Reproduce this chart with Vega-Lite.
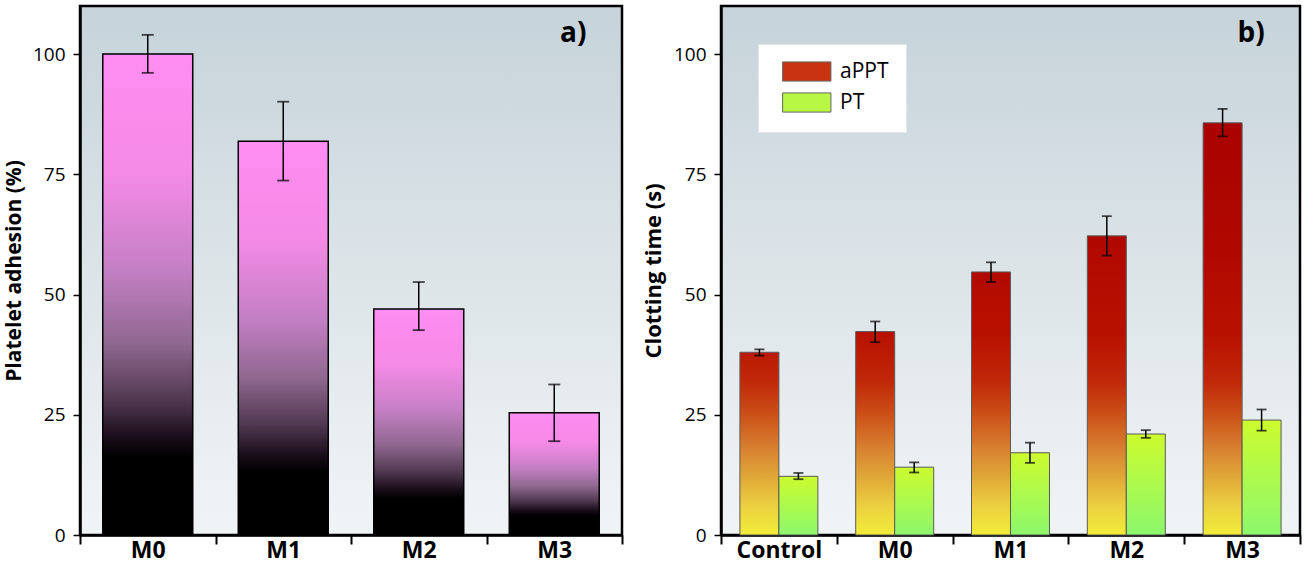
{
  "$schema": "https://vega.github.io/schema/vega-lite/v6.json",
  "padding": {"left": 2, "top": 4, "right": 2, "bottom": 0},
  "spacing": 16,
  "datasets": {
    "adhesion": [
      {"sample": "M0", "adhesion": 100.0, "lo": 96.1, "hi": 104.0},
      {"sample": "M1", "adhesion": 81.9, "lo": 73.7, "hi": 90.1},
      {"sample": "M2", "adhesion": 47.0, "lo": 42.6, "hi": 52.6},
      {"sample": "M3", "adhesion": 25.4, "lo": 19.5, "hi": 31.3}
    ],
    "clotting": [
      {"sample": "Control", "test": "aPPT", "time": 38.0, "lo": 37.3, "hi": 38.6},
      {"sample": "Control", "test": "PT", "time": 12.2, "lo": 11.6, "hi": 12.9},
      {"sample": "M0", "test": "aPPT", "time": 42.3, "lo": 40.1, "hi": 44.4},
      {"sample": "M0", "test": "PT", "time": 14.1, "lo": 13.0, "hi": 15.1},
      {"sample": "M1", "test": "aPPT", "time": 54.7, "lo": 52.6, "hi": 56.7},
      {"sample": "M1", "test": "PT", "time": 17.1, "lo": 15.0, "hi": 19.2},
      {"sample": "M2", "test": "aPPT", "time": 62.2, "lo": 58.1, "hi": 66.3},
      {"sample": "M2", "test": "PT", "time": 21.0, "lo": 20.2, "hi": 21.8},
      {"sample": "M3", "test": "aPPT", "time": 85.7, "lo": 82.9, "hi": 88.6},
      {"sample": "M3", "test": "PT", "time": 23.9, "lo": 21.7, "hi": 26.1}
    ]
  },
  "config": {
    "font": "Open Sans",
    "view": {
      "stroke": "black",
      "strokeWidth": 2.5,
      "fill": {"gradient": "linear", "x1": 0, "y1": 0, "x2": 0, "y2": 1,
        "stops": [{"offset": 0, "color": "#c6d3da"}, {"offset": 0.5, "color": "#dce4e8"}, {"offset": 1, "color": "#f1f4f5"}]}
    },
    "axis": {
      "labelColor": "black", "titleColor": "black", "tickColor": "black", "domainColor": "black",
      "labelFont": "Open Sans", "titleFont": "Open Sans", "grid": false
    },
    "axisX": {"labelAngle": 0, "labelFontSize": 23, "labelFontWeight": "bold", "tickBand": "extent", "tickSize": 9, "tickWidth": 2, "domainWidth": 2.5, "labelPadding": -5, "title": null},
    "axisY": {"labelFontSize": 19, "tickSize": 7, "tickWidth": 1.5, "domainWidth": 2.5, "labelPadding": 8, "titleFontSize": 21, "titleFontWeight": "bold", "titlePadding": 8}
  },
  "hconcat": [
    {
      "width": 542,
      "height": 529,
      "data": {"name": "adhesion"},
      "encoding": {
        "x": {"field": "sample", "type": "nominal", "scale": {"paddingInner": 0, "paddingOuter": 0}, "axis": {}}
      },
      "layer": [
        {
          "mark": {"type": "bar", "stroke": "black", "strokeWidth": 1.5, "width": {"band": 0.664},
            "fill": {"gradient": "linear", "x1": 0, "y1": 0, "x2": 0, "y2": 1,
              "stops": [
                {"offset": 0, "color": "#ff8df2"},
                {"offset": 0.25, "color": "#f48ae6"},
                {"offset": 0.45, "color": "#c47fc4"},
                {"offset": 0.6, "color": "#906890"},
                {"offset": 0.72, "color": "#503850"},
                {"offset": 0.8, "color": "#180c18"},
                {"offset": 0.84, "color": "#000000"},
                {"offset": 1, "color": "#000000"}
              ]}},
          "encoding": {
            "y": {"field": "adhesion", "type": "quantitative", "scale": {"domain": [0, 110], "nice": false}, "axis": {"title": "Platelet adhesion (%)", "values": [0, 25, 50, 75, 100]}}
          }
        },
        {
          "mark": {"type": "rule", "color": "black", "strokeWidth": 1.5},
          "encoding": {"y": {"field": "lo", "type": "quantitative"}, "y2": {"field": "hi"}}
        },
        {
          "mark": {"type": "tick", "color": "black", "size": 12, "thickness": 1.8},
          "encoding": {"y": {"field": "lo", "type": "quantitative"}}
        },
        {
          "mark": {"type": "tick", "color": "black", "size": 12, "thickness": 1.8},
          "encoding": {"y": {"field": "hi", "type": "quantitative"}}
        },
        {
          "data": {"values": [{"label": "a)"}]},
          "mark": {"type": "text", "fontSize": 28, "fontWeight": "bold", "align": "center", "baseline": "alphabetic", "dx": 19, "color": "black"},
          "encoding": {"x": {"datum": "M3"}, "y": {"datum": 102.5}, "text": {"field": "label"}}
        }
      ]
    },
    {
      "width": 579,
      "height": 529,
      "data": {"name": "clotting"},
      "encoding": {
        "x": {"field": "sample", "type": "nominal", "sort": ["Control", "M0", "M1", "M2", "M3"], "scale": {"paddingInner": 0, "paddingOuter": 0}, "axis": {}}
      },
      "layer": [
        {
          "mark": {"type": "bar", "stroke": "#5a5a5a", "strokeWidth": 1},
          "encoding": {
            "xOffset": {"field": "test", "type": "nominal", "sort": ["aPPT", "PT"], "scale": {"paddingInner": 0, "paddingOuter": 0.485}},
            "y": {"field": "time", "type": "quantitative", "scale": {"domain": [0, 110], "nice": false}, "axis": {"title": "Clotting time (s)", "titleFontSize": 22, "values": [0, 25, 50, 75, 100]}},
            "fill": {
              "condition": [
                {"test": "datum.test === 'PT'", "value": {"gradient": "linear", "x1": 0, "y1": 0, "x2": 0, "y2": 1, "stops": [{"offset": 0, "color": "#cdfb2e"}, {"offset": 1, "color": "#8cf86c"}]}},
                {"test": "datum.test === 'aPPT' && datum.sample === 'Control'", "value": {"gradient": "linear", "x1": 0, "y1": 0, "x2": 0, "y2": 1, "stops": [
                  {"offset": 0, "color": "#bb1a04"}, {"offset": 0.158, "color": "#c02808"}, {"offset": 0.342, "color": "#cc5018"}, {"offset": 0.526, "color": "#d88030"}, {"offset": 0.684, "color": "#e0a838"}, {"offset": 0.842, "color": "#ecd040"}, {"offset": 1, "color": "#f2ec3a"}]}},
                {"test": "datum.test === 'aPPT' && datum.sample === 'M0'", "value": {"gradient": "linear", "x1": 0, "y1": 0, "x2": 0, "y2": 1, "stops": [
                  {"offset": 0, "color": "#b81000"}, {"offset": 0.243, "color": "#c02808"}, {"offset": 0.409, "color": "#cc5018"}, {"offset": 0.574, "color": "#d88030"}, {"offset": 0.716, "color": "#e0a838"}, {"offset": 0.858, "color": "#ecd040"}, {"offset": 1, "color": "#f2ec3a"}]}},
                {"test": "datum.test === 'aPPT' && datum.sample === 'M1'", "value": {"gradient": "linear", "x1": 0, "y1": 0, "x2": 0, "y2": 1, "stops": [
                  {"offset": 0, "color": "#b30a00"}, {"offset": 0.232, "color": "#b81000"}, {"offset": 0.415, "color": "#c02808"}, {"offset": 0.543, "color": "#cc5018"}, {"offset": 0.671, "color": "#d88030"}, {"offset": 0.781, "color": "#e0a838"}, {"offset": 0.89, "color": "#ecd040"}, {"offset": 1, "color": "#f2ec3a"}]}},
                {"test": "datum.test === 'aPPT' && datum.sample === 'M2'", "value": {"gradient": "linear", "x1": 0, "y1": 0, "x2": 0, "y2": 1, "stops": [
                  {"offset": 0, "color": "#b00800"}, {"offset": 0.325, "color": "#b81000"}, {"offset": 0.486, "color": "#c02808"}, {"offset": 0.598, "color": "#cc5018"}, {"offset": 0.711, "color": "#d88030"}, {"offset": 0.807, "color": "#e0a838"}, {"offset": 0.904, "color": "#ecd040"}, {"offset": 1, "color": "#f2ec3a"}]}},
                {"test": "datum.test === 'aPPT' && datum.sample === 'M3'", "value": {"gradient": "linear", "x1": 0, "y1": 0, "x2": 0, "y2": 1, "stops": [
                  {"offset": 0, "color": "#a90200"}, {"offset": 0.3, "color": "#b00800"}, {"offset": 0.51, "color": "#b81000"}, {"offset": 0.627, "color": "#c02808"}, {"offset": 0.708, "color": "#cc5018"}, {"offset": 0.79, "color": "#d88030"}, {"offset": 0.86, "color": "#e0a838"}, {"offset": 0.93, "color": "#ecd040"}, {"offset": 1, "color": "#f2ec3a"}]}}
              ],
              "field": "test",
              "type": "nominal",
              "sort": ["aPPT", "PT"],
              "scale": {"domain": ["aPPT", "PT"], "range": ["#c83410", "#b8f844"]},
              "legend": {
                "title": null, "orient": "none", "legendX": 678, "legendY": 38,
                "symbolType": "M-0.3,-1H4.73V1H-0.3Z", "symbolSize": 369, "symbolStrokeColor": "#666666", "symbolStrokeWidth": 1, "symbolOpacity": 1,
                "labelFont": "Open Sans", "labelFontSize": 21, "labelColor": "black", "labelOffset": 44,
                "rowPadding": 6, "padding": 17, "fillColor": "white", "strokeColor": "#e2e6e8"
              }
            }
          }
        },
        {
          "mark": {"type": "rule", "color": "black", "strokeWidth": 1.5},
          "encoding": {
            "xOffset": {"field": "test", "type": "nominal", "sort": ["aPPT", "PT"]},
            "y": {"field": "lo", "type": "quantitative"}, "y2": {"field": "hi"}}
        },
        {
          "mark": {"type": "tick", "color": "black", "size": 10, "thickness": 1.8},
          "encoding": {"xOffset": {"field": "test", "type": "nominal", "sort": ["aPPT", "PT"]}, "y": {"field": "lo", "type": "quantitative"}}
        },
        {
          "mark": {"type": "tick", "color": "black", "size": 10, "thickness": 1.8},
          "encoding": {"xOffset": {"field": "test", "type": "nominal", "sort": ["aPPT", "PT"]}, "y": {"field": "hi", "type": "quantitative"}}
        },
        {
          "data": {"values": [{"label": "b)"}]},
          "mark": {"type": "text", "fontSize": 28, "fontWeight": "bold", "align": "center", "baseline": "alphabetic", "dx": 9, "color": "black"},
          "encoding": {"x": {"datum": "M3"}, "y": {"datum": 102.5}, "text": {"field": "label"}}
        }
      ]
    }
  ]
}
